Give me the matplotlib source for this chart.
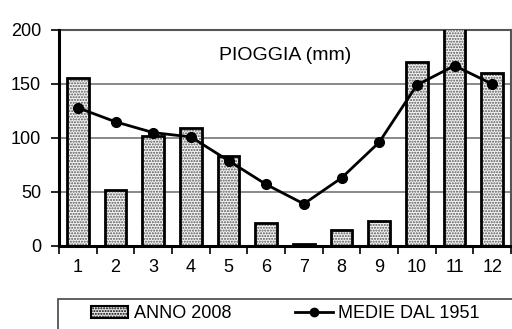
import matplotlib.pyplot as plt
from matplotlib.patches import Rectangle
from matplotlib.lines import Line2D

plt.rcParams['font.family'] = ['Liberation Sans', 'DejaVu Sans']

months = ['1', '2', '3', '4', '5', '6', '7', '8', '9', '10', '11', '12']
rain_2008 = [156, 52, 102, 109, 83, 21, 2, 15, 23, 170, 215, 160]
avg_1951 = [128, 115, 105, 101, 79, 57, 39, 63, 96, 149, 167, 150]

fig = plt.figure(figsize=(5.12, 3.29), dpi=100)
ax = fig.add_axes([59/512, 83/329, 452/512, 216/329])

x = list(range(1, len(months) + 1))

# bars: stipple fill first, then the black outline on top
ax.bar(x, rain_2008, width=0.58, color='#f4f4f4', edgecolor='#555555',
       hatch='......', linewidth=0, zorder=3)
ax.bar(x, rain_2008, width=0.58, color='none', edgecolor='black',
       linewidth=2, zorder=3)
ax.plot(x, avg_1951, color='black', lw=2, marker='o', ms=7, zorder=4)

ax.set_xlim(0.5, 12.5)
ax.set_ylim(0, 200)
ax.set_yticks([0, 50, 100, 150, 200])
ax.set_xticks(x)
ax.set_xticklabels(months)
ax.set_xticks([i + 0.5 for i in range(0, 13)], minor=True)
ax.tick_params(axis='x', which='major', length=0, pad=9, labelsize=13)
ax.tick_params(axis='x', which='minor', length=6, width=1.2, direction='out')
ax.tick_params(axis='y', length=6, width=1.2, pad=7, labelsize=13)

ax.grid(axis='y', color='#808080', lw=1.3, zorder=0)
ax.set_axisbelow(True)
for s in ['left', 'bottom']:
    ax.spines[s].set_linewidth(2.2)
    ax.spines[s].set_zorder(5)
ax.spines['top'].set_color('#555555')
ax.spines['top'].set_linewidth(1.5)
ax.spines['top'].set_zorder(1)
ax.spines['right'].set_color('#555555')
ax.spines['right'].set_linewidth(1.5)

ax.text(0.5, 0.88, 'PIOGGIA (mm)', transform=ax.transAxes,
        ha='center', va='center', fontsize=14)

# legend box below the chart
fig.patches.append(Rectangle((58/512, -0.1), 1.0, 0.1 + 1 - 299/329,
                             transform=fig.transFigure, fill=False,
                             edgecolor='#444444', lw=1.2))
h_bar = Rectangle((0, 0), 1, 1, facecolor='#e8e8e8', edgecolor='black',
                  hatch='......', lw=1.5)
h_line = Line2D([], [], color='black', lw=2, marker='o', ms=6)
fig.legend([h_bar, h_line], ['ANNO 2008', 'MEDIE DAL 1951'],
           loc='center', bbox_to_anchor=(285/512, 1 - 314/329), ncol=2,
           frameon=False, fontsize=13, handlelength=2.1,
           handletextpad=0.3, columnspacing=3.5, handleheight=0.6)

plt.savefig('out.png', dpi=100)
